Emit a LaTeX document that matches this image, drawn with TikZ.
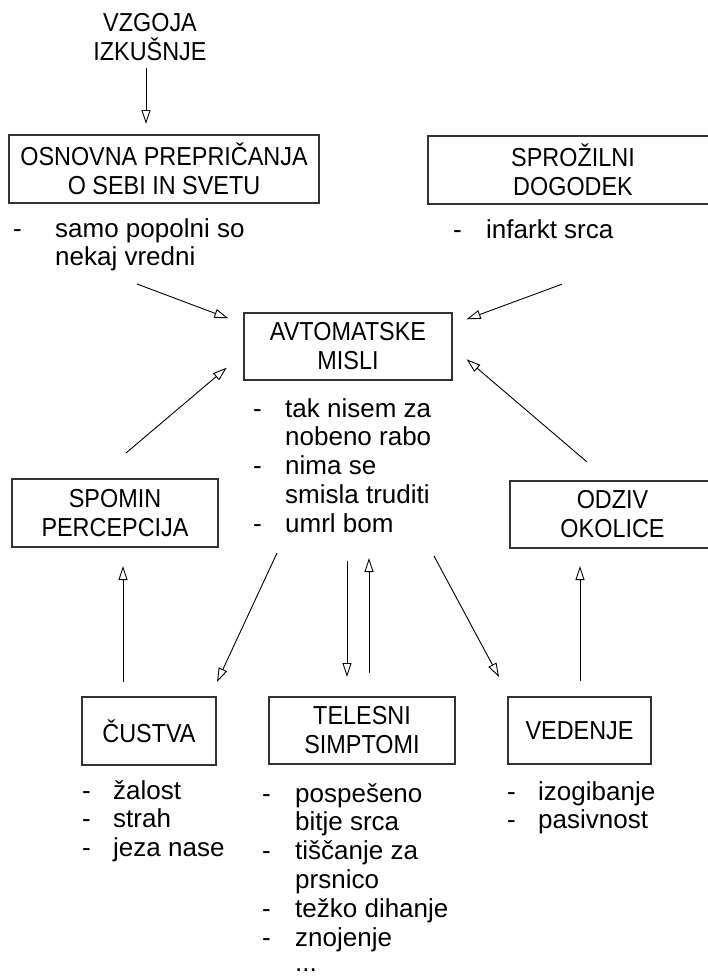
\documentclass[tikz,border=0pt]{standalone}
\usepackage{fontspec}
\setmainfont{Liberation Sans}
\newfontfamily\capf[FakeStretch=0.9]{Liberation Sans}
\usetikzlibrary{arrows.meta}
\begin{document}
\begin{tikzpicture}[x=1pt,y=-1pt,
  box/.style={draw=black!80, line width=1.3pt, align=center, inner sep=0pt,
    font=\capf\fontsize{26}{29}\selectfont},
  lbl/.style={align=center, inner sep=0pt, font=\capf\fontsize{26}{29}\selectfont},
  lst/.style={anchor=base west, inner sep=0pt, font=\fontsize{26}{28.9}\selectfont},
  arr/.style={line width=0.9pt, -{Triangle[open,length=14pt,width=9pt]}}
]
\useasboundingbox (0,0) rectangle (708,978);

% top label
\node[lbl] (vz) at (150,37) {VZGOJA\\IZKUŠNJE};

% boxes
\node[box, minimum width=310pt, minimum height=68pt] (osn) at (164,169) {OSNOVNA PREPRIČANJA\\O SEBI IN SVETU};
\node[box, minimum width=290pt, minimum height=68pt] (spr) at (573,170) {SPROŽILNI\\DOGODEK};
\node[box, minimum width=208pt, minimum height=67pt] (avt) at (348,346.5) {AVTOMATSKE\\MISLI};
\node[box, minimum width=206pt, minimum height=68pt] (spo) at (115,513) {SPOMIN\\PERCEPCIJA};
\node[box, minimum width=205pt, minimum height=67pt] (odz) at (612.5,514.5) {ODZIV\\OKOLICE};
\node[box, minimum width=134pt, minimum height=68pt] (cus) at (149,731) {ČUSTVA};
\node[box, minimum width=186pt, minimum height=67pt] (tel) at (362,730.5) {TELESNI\\SIMPTOMI};
\node[box, minimum width=143pt, minimum height=67pt] (ved) at (579.5,730.5) {VEDENJE};

% bullet lists
\node[lst] (losn) at (13,237) {\begin{tabular}[t]{@{}p{42pt}@{}l@{}}-&samo popolni so\\&nekaj vredni\end{tabular}};
\node[lst] (lspr) at (453,238) {\begin{tabular}[t]{@{}p{33pt}@{}l@{}}-&infarkt srca\end{tabular}};
\node[lst] (lavt) at (253,417) {\begin{tabular}[t]{@{}p{32pt}@{}l@{}}-&tak nisem za\\&nobeno rabo\\-&nima se\\&smisla truditi\\-&umrl bom\end{tabular}};
\node[lst] (lcus) at (82,799) {\begin{tabular}[t]{@{}p{31pt}@{}l@{}}-&žalost\\-&strah\\-&jeza nase\end{tabular}};
\node[lst] (ltel) at (262,802) {\begin{tabular}[t]{@{}p{33pt}@{}l@{}}-&pospešeno\\&bitje srca\\-&tiščanje za\\&prsnico\\-&težko dihanje\\-&znojenje\\[-3.5pt]&...\end{tabular}};
\node[lst] (lved) at (507,800) {\begin{tabular}[t]{@{}p{31pt}@{}l@{}}-&izogibanje\\-&pasivnost\end{tabular}};

% connector end points
\coordinate (vzS) at (146,68);      \coordinate (osnT) at (146,124);
\coordinate (osnS) at (137,284);    \coordinate (avtL1) at (228.3,318.3);
\coordinate (sprS) at (561.7,284.3); \coordinate (avtR1) at (466.7,319.3);
\coordinate (spoS) at (126,453);    \coordinate (avtL2) at (226.7,367.7);
\coordinate (odzS) at (586.7,461.7); \coordinate (avtR2) at (466.7,359.3);
\coordinate (avtC) at (277,553);    \coordinate (cusT) at (217,682);
\coordinate (avtD) at (347,561);    \coordinate (telT) at (347,677);
\coordinate (telS) at (369,673);    \coordinate (avtU) at (369,558);
\coordinate (avtV) at (434,556);    \coordinate (vedT) at (499,677);
\coordinate (cusS) at (123,682);    \coordinate (spoT) at (123,566);
\coordinate (vedS) at (580,681);    \coordinate (odzT) at (580,566);

\draw[arr] (vzS) -- (osnT);
\draw[arr] (osnS) -- (avtL1);
\draw[arr] (sprS) -- (avtR1);
\draw[arr] (spoS) -- (avtL2);
\draw[arr] (odzS) -- (avtR2);
\draw[arr] (avtC) -- (cusT);
\draw[arr] (avtD) -- (telT);
\draw[arr] (telS) -- (avtU);
\draw[arr] (avtV) -- (vedT);
\draw[arr] (cusS) -- (spoT);
\draw[arr] (vedS) -- (odzT);
\end{tikzpicture}
\end{document}
